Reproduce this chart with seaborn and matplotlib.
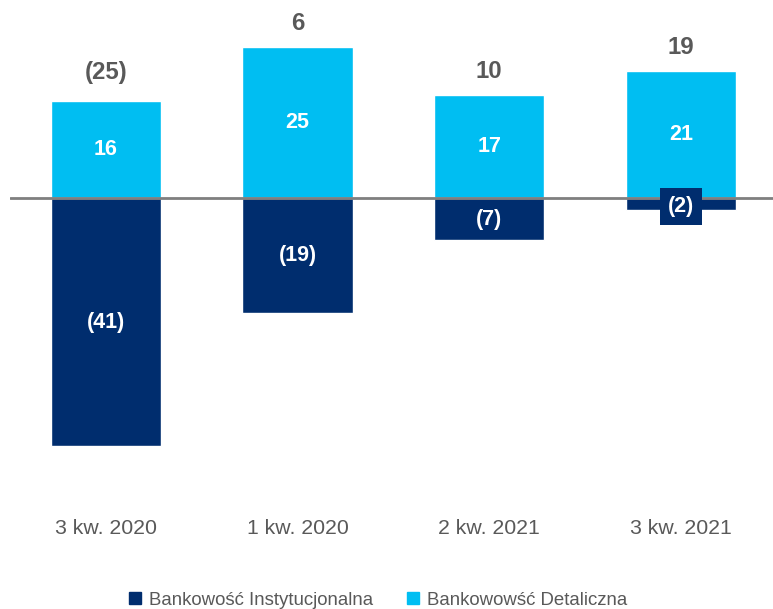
import matplotlib
matplotlib.use("Agg")
import matplotlib.pyplot as plt
import seaborn as sns
import pandas as pd
from matplotlib.lines import Line2D

categories = ["3 kw. 2020", "1 kw. 2020", "2 kw. 2021", "3 kw. 2021"]
instytucjonalna = [-41, -19, -7, -2]
detaliczna = [16, 25, 17, 21]
totals = [-25, 6, 10, 19]

NAVY = "#002D6E"
CYAN = "#00BEF2"
GREY = "#595959"

sns.set_theme(style="white")
plt.rcParams['font.family'] = ['Liberation Sans', 'DejaVu Sans']

df = pd.DataFrame({"cat": categories, "inst": instytucjonalna, "det": detaliczna})

fig = plt.figure(figsize=(7.73, 6.09), dpi=100)
ax = fig.add_axes([10/773, 1 - 500/609, 1 - 10/773, 500/609])

sns.barplot(data=df, x="cat", y="det", color=CYAN, width=0.575, ax=ax, saturation=1)
sns.barplot(data=df, x="cat", y="inst", color=NAVY, width=0.575, ax=ax, saturation=1)

ax.axhline(0, color="#7F7F7F", lw=2, zorder=5)

scale = 6.05
ax.set_xlim(-0.5, 3.48)
ax.set_ylim(-(500 - 198) / scale, 198 / scale)

def fmt(v):
    return f"({abs(v)})" if v < 0 else f"{v}"

for i, (n, p, t) in enumerate(zip(instytucjonalna, detaliczna, totals)):
    ax.text(i, p / 2, fmt(p), ha="center", va="center", color="white",
            fontsize=15.5, fontweight="bold", zorder=6)
    if abs(n) >= 5:
        ax.text(i, n / 2, fmt(n), ha="center", va="center", color="white",
                fontsize=15.5, fontweight="bold", zorder=6)
    else:
        ax.text(i, n / 2 - 0.4, fmt(n), ha="center", va="center", color="white",
                fontsize=15.5, fontweight="bold", zorder=6,
                bbox=dict(boxstyle="square,pad=0.36", facecolor=NAVY, edgecolor="none"))
    off = 4.7 if t < 0 else 3.9
    ax.text(i, p + off, fmt(t), ha="center", va="center", color=GREY,
            fontsize=17.3, fontweight="bold", zorder=6)

ax.set_xlabel("")
ax.set_ylabel("")
ax.set_yticks([])
ax.tick_params(axis="x", length=0, pad=14, labelsize=15.3, labelcolor=GREY)
for s in ax.spines.values():
    s.set_visible(False)

handles = [Line2D([0], [0], marker="s", linestyle="none", markersize=8.5,
                  markerfacecolor=NAVY, markeredgecolor=NAVY),
           Line2D([0], [0], marker="s", linestyle="none", markersize=8.5,
                  markerfacecolor=CYAN, markeredgecolor=CYAN)]
fig.legend(handles, ["Bankowość Instytucjonalna", "Bankowowść Detaliczna"],
           loc="center", bbox_to_anchor=(377/773, 1 - 600/609), ncol=2, frameon=False,
           fontsize=13.4, labelcolor=GREY, handletextpad=0.35, columnspacing=1.75,
           handlelength=0.8)

fig.savefig("out.png", dpi=100)
